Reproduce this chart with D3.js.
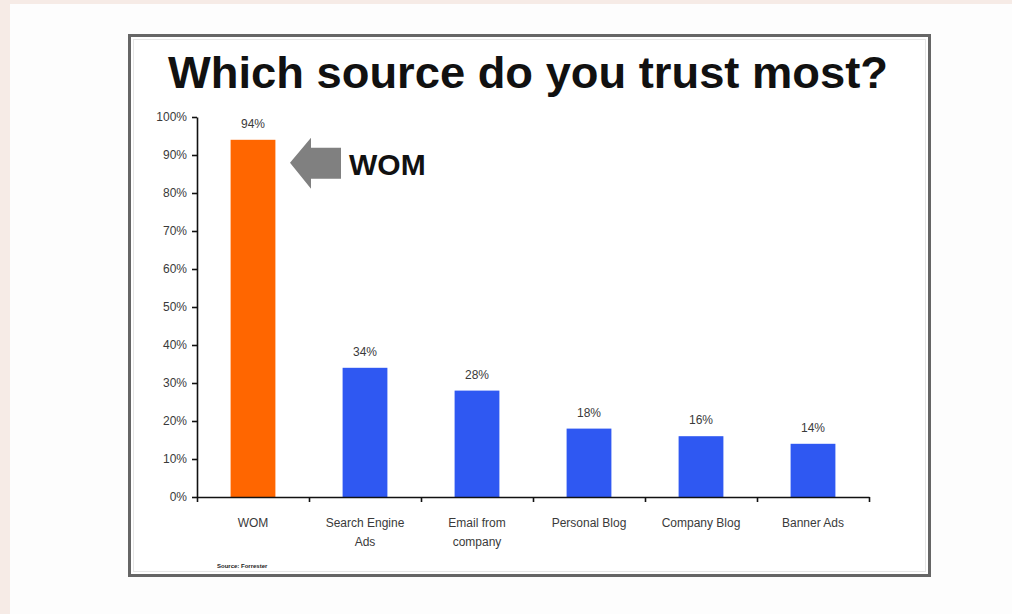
<!DOCTYPE html>
<html>
<head>
<meta charset="utf-8">
<script src="https://cdn.jsdelivr.net/npm/d3@7"></script>
<style>
  body { margin: 0; background: #fdfdfd; }
  svg { display: block; }
  .tick text { font-family: "Liberation Sans", Arial, sans-serif; fill: #3a3a3a; }
</style>
</head>
<body>
<svg id="chart" width="1012" height="614"></svg>
<script>
// chart data
const categories = ["WOM", "Search Engine Ads", "Email from company", "Personal Blog", "Company Blog", "Banner Ads"];
const categoryLines = [["WOM"], ["Search Engine", "Ads"], ["Email from", "company"], ["Personal Blog"], ["Company Blog"], ["Banner Ads"]];
const values = [94, 34, 28, 18, 16, 14];
const barColors = ["#ff6600", "#2f58f2", "#2f58f2", "#2f58f2", "#2f58f2", "#2f58f2"];
const yTicks = [0, 10, 20, 30, 40, 50, 60, 70, 80, 90, 100];
const title = "Which source do you trust most?";
const callout = "WOM";
const source = "Source: Forrester";

const svg = d3.select("#chart");
const font = "'Liberation Sans', Arial, sans-serif";

// page strips
svg.append("rect").attr("x", 0).attr("y", 0).attr("width", 1012).attr("height", 4).attr("fill", "#f6ebe6");
svg.append("rect").attr("x", 0).attr("y", 0).attr("width", 10).attr("height", 614).attr("fill", "#f6ebe6");

// slide frame
svg.append("rect")
  .attr("x", 129.5).attr("y", 35.5).attr("width", 800).attr("height", 540)
  .attr("fill", "#ffffff").attr("stroke", "#666").attr("stroke-width", 3);
svg.append("rect")
  .attr("x", 133.5).attr("y", 39.5).attr("width", 792).attr("height", 532)
  .attr("fill", "none").attr("stroke", "#e6e6e6").attr("stroke-width", 1);

svg.append("text")
  .attr("x", 168).attr("y", 88)
  .attr("textLength", 720).attr("lengthAdjust", "spacingAndGlyphs")
  .style("font-family", font).style("font-weight", "bold").style("font-size", "45px")
  .attr("fill", "#111")
  .text(title);

const plotLeft = 197, plotRight = 869, plotTop = 117, plotBottom = 497;

const x = d3.scaleBand().domain(categories).range([plotLeft, plotRight]).paddingInner(0.6).paddingOuter(0.3);
const y = d3.scaleLinear().domain([0, 100]).range([plotBottom, plotTop]);
const xEdges = d3.scaleLinear().domain([0, categories.length]).range([plotLeft, plotRight]);

// bars
svg.append("g").selectAll("rect")
  .data(values)
  .join("rect")
  .attr("x", (d, i) => x(categories[i]))
  .attr("y", d => y(d))
  .attr("width", x.bandwidth())
  .attr("height", d => y(0) - y(d))
  .attr("fill", (d, i) => barColors[i]);

// value labels
svg.append("g").selectAll("text")
  .data(values)
  .join("text")
  .attr("x", (d, i) => x(categories[i]) + x.bandwidth() / 2)
  .attr("y", d => y(d) - 12)
  .attr("text-anchor", "middle")
  .style("font-family", font).style("font-size", "12px")
  .attr("fill", "#3a3a3a")
  .text(d => d + "%");

// y axis
const yAxis = svg.append("g")
  .attr("transform", `translate(${plotLeft},0)`)
  .call(d3.axisLeft(y).tickValues(yTicks).tickFormat(d => d + "%").tickSize(5).tickSizeOuter(0).tickPadding(5));
yAxis.selectAll("line, path").attr("stroke", "#111").attr("stroke-width", 1.6);
yAxis.selectAll("text").style("font-size", "12px");

// x axis with ticks on category edges
const xAxis = svg.append("g")
  .attr("transform", `translate(0,${plotBottom})`)
  .call(d3.axisBottom(xEdges).tickValues(d3.range(categories.length + 1)).tickFormat("").tickSize(5).tickSizeOuter(0));
xAxis.selectAll("line, path").attr("stroke", "#111").attr("stroke-width", 1.6);

// category labels
const catG = svg.append("g").selectAll("text")
  .data(categories)
  .join("text")
  .attr("text-anchor", "middle")
  .style("font-family", font).style("font-size", "12px")
  .attr("fill", "#3a3a3a");
catG.each(function (d, i) {
  d3.select(this).selectAll("tspan")
    .data(categoryLines[i])
    .join("tspan")
    .attr("x", x(d) + x.bandwidth() / 2)
    .attr("y", (t, j) => 527 + j * 19)
    .text(t => t);
});

// source note
svg.append("text")
  .attr("x", 217).attr("y", 568)
  .style("font-family", font).style("font-size", "6px").style("font-weight", "bold")
  .attr("fill", "#222")
  .text(source);

// callout arrow pointing at WOM bar
const tipX = 290, tipY = y(values[0]) + 23;
const arrow = [
  [tipX, tipY],
  [tipX + 21, tipY - 25],
  [tipX + 21, tipY - 15],
  [tipX + 51, tipY - 15],
  [tipX + 51, tipY + 16],
  [tipX + 21, tipY + 16],
  [tipX + 21, tipY + 26]
];
svg.append("path")
  .attr("d", d3.line()(arrow) + "Z")
  .attr("fill", "#808080");

svg.append("text")
  .attr("x", 349).attr("y", tipY + 12)
  .style("font-family", font).style("font-weight", "bold").style("font-size", "30px")
  .attr("fill", "#111")
  .text(callout);
</script>
</body>
</html>
